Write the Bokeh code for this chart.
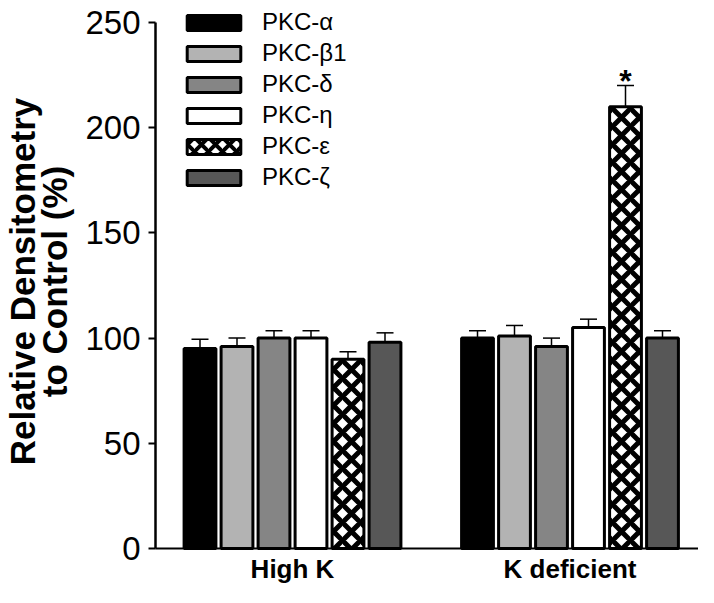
from bokeh.plotting import figure
from bokeh.models import (ColumnDataSource, Range1d, FixedTicker, Whisker, TeeHead,
                          Legend, LegendItem, Label)
from bokeh.core.properties import value
from bokeh.embed import file_html
from bokeh.resources import INLINE
import math

groups = ["High K", "K deficient"]
isoforms = ["PKC-α", "PKC-β1", "PKC-δ", "PKC-η", "PKC-ε", "PKC-ζ"]
high_k = [95, 96, 100, 100, 90, 98]
high_k_err = [4.5, 4, 3.5, 3.5, 3.5, 4.5]
k_def = [100, 101, 96, 105, 210, 100]
k_def_err = [3.5, 5, 4, 4, 10, 3.5]
fills = ["#000000", "#b3b3b3", "#858585", "#ffffff", "#ffffff", "#575757"]
hatches = ["", "", "", "", "x", ""]
y_ticks = [0, 50, 100, 150, 200, 250]
y_title = ["Relative Densitometry", "to Control (%)"]
signif = [(1, 4)]  # (group index, isoform index) marked with *

# ---- layout constants (pixels) ----
W, H = 698, 587
AX_LEFT, AX_TOP, AX_BOTTOM = 155, 22, 548   # y-axis line x, top (250) and bottom (0) in px
FIRST_BAR_PX, PITCH_PX = 199.5, 37.0
Y_MAX = 250
PX_PER_UNIT = (AX_BOTTOM - AX_TOP) / Y_MAX

GAP = 1.5
n = len(isoforms)
xs, tops, errs, cols, hps, names = [], [], [], [], [], []
for gi, (vals, es) in enumerate([(high_k, high_k_err), (k_def, k_def_err)]):
    for ii in range(n):
        xs.append(gi * (n + GAP) + ii)
        tops.append(vals[ii])
        errs.append(es[ii])
        cols.append(fills[ii])
        hps.append(hatches[ii])
        names.append(isoforms[ii])

src = ColumnDataSource(dict(x=xs, top=tops, upper=[t + e for t, e in zip(tops, errs)],
                            fill=cols, hatch=hps, name=names))

x_start = -FIRST_BAR_PX / PITCH_PX
x_end = (W - FIRST_BAR_PX) / PITCH_PX
y_start = -(H - AX_BOTTOM) / PX_PER_UNIT
y_end = Y_MAX + AX_TOP / PX_PER_UNIT
x_axis_pos = (AX_LEFT - FIRST_BAR_PX) / PITCH_PX

p = figure(width=W, height=H, output_backend="svg", toolbar_location=None,
           x_range=Range1d(x_start, x_end), y_range=Range1d(y_start, y_end),
           min_border=0)
p.outline_line_color = None
p.grid.grid_line_color = None
p.background_fill_color = "white"

# error bars (upper only)
wh = Whisker(source=src, base="x", lower="top", upper="upper", dimension="height",
             line_color="black", line_width=1.5,
             upper_head=TeeHead(size=17, line_color="black", line_width=1.5),
             lower_head=None, level="underlay")
p.add_layout(wh)

p.vbar(x="x", top="top", bottom=0, width=0.86, source=src,
       fill_color="fill", line_color="black", line_width=3,
       hatch_pattern="hatch", hatch_color="black", hatch_weight=5, hatch_scale=18)

# legend with one proxy per isoform
items = []
for ii, name in enumerate(isoforms):
    r = p.vbar(x=[xs[ii]], top=[tops[ii]], width=0.86, fill_color=fills[ii],
               line_color="black", line_width=3, hatch_pattern=hatches[ii] or " ",
               hatch_color="black", hatch_weight=4, hatch_scale=14, visible=False)
    items.append(LegendItem(label=name, renderers=[r]))
leg = Legend(items=items, location=(180, H - 191), glyph_width=67, glyph_height=19,
             label_height=19, spacing=3, padding=0, margin=0,
             label_text_font="Liberation Sans", label_text_font_size="24px",
             label_text_color="black", label_standoff=15,
             border_line_color=None, background_fill_alpha=0)
p.add_layout(leg, "center")

# significance star
sx = [gi * (n + GAP) + ii for gi, ii in signif]
sy = [[high_k, k_def][gi][ii] + [high_k_err, k_def_err][gi][ii] for gi, ii in signif]
p.text(x=sx, y=sy, text=["*"] * len(sx), text_align="center", text_baseline="bottom",
       y_offset=13, text_font=value("Liberation Sans"), text_font_style="bold",
       text_font_size="32px", text_color="black")

# y axis (fixed at the left edge of the bar area)
ya = p.yaxis[0]
ya.fixed_location = x_axis_pos
ya.bounds = (0, Y_MAX)
ya.ticker = FixedTicker(ticks=y_ticks)
ya.minor_tick_line_color = None
ya.major_tick_in = 0
ya.major_tick_out = 7
ya.major_tick_line_width = 2
ya.axis_line_width = 2.5
ya.major_label_text_font = "Liberation Sans"
ya.major_label_text_font_size = "33px"
ya.major_label_text_color = "black"
ya.major_label_standoff = 8

# x axis line at y = 0
xa = p.xaxis[0]
xa.fixed_location = 0
xa.bounds = (x_axis_pos, x_end)
xa.ticker = FixedTicker(ticks=[])
xa.major_tick_line_color = None
xa.minor_tick_line_color = None
xa.major_label_text_font_size = "0px"
xa.axis_line_width = 2

# y title as two rotated lines
for txt, xpx in zip(y_title, [22, 54]):
    p.add_layout(Label(x=xpx, y=H - 281, x_units="screen", y_units="screen", text=txt,
                       angle=math.pi / 2, text_align="center", text_baseline="middle",
                       text_font="Liberation Sans", text_font_style="bold",
                       text_font_size="35px", text_color="black"))

# group labels under the axis
for gi, g in enumerate(groups):
    p.add_layout(Label(x=gi * (n + GAP) + (n - 1) / 2, y=0, y_offset=-20, text=g,
                       text_align="center", text_baseline="middle",
                       text_font="Liberation Sans", text_font_style="bold",
                       text_font_size="26px", text_color="black"))

open("out.html", "w").write(file_html(p, INLINE))
